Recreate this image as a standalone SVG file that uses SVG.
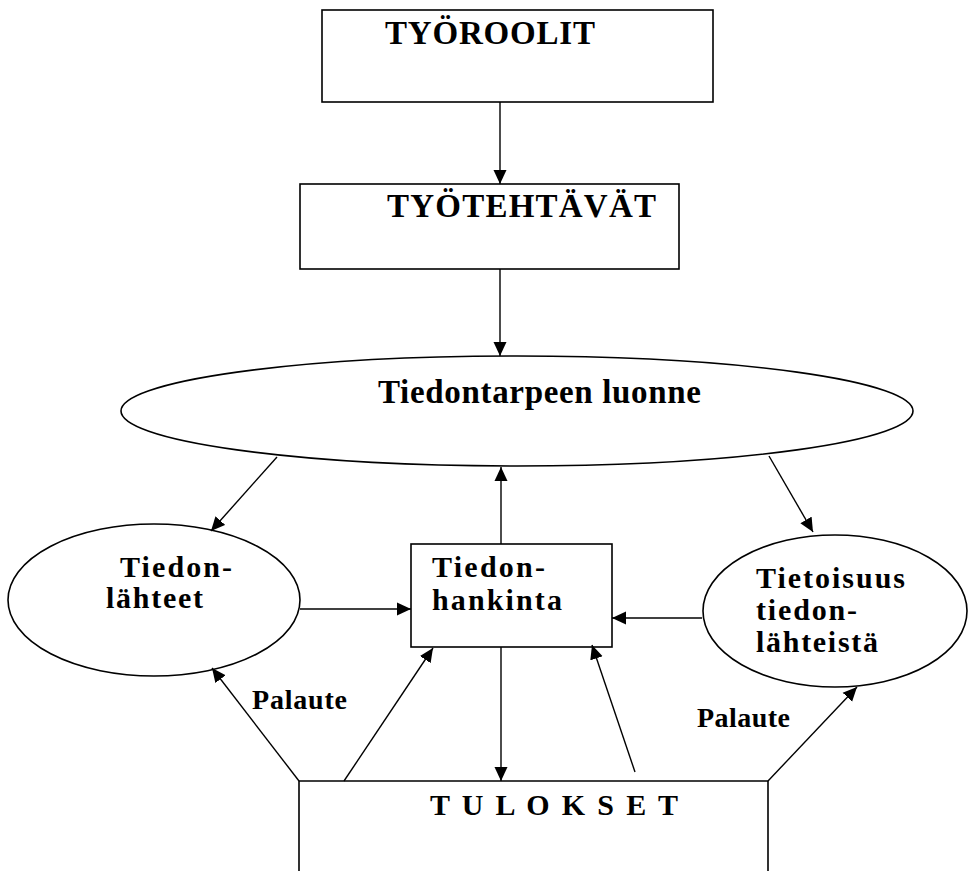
<svg xmlns="http://www.w3.org/2000/svg" width="968" height="871" viewBox="0 0 968 871">
<style>
.box{fill:#fff;stroke:#000;stroke-width:1.6}
.t{font-family:"Liberation Serif","Times New Roman",serif;font-weight:bold;fill:#000}
.c{fill:none;stroke:#000;stroke-width:1.4}
</style>
<defs>
<marker id="ah" markerUnits="userSpaceOnUse" markerWidth="15" markerHeight="14" refX="14" refY="7" orient="auto">
<path d="M0,0.5 L14,7 L0,13.5 z" fill="#000"/>
</marker>
</defs>
<rect width="968" height="871" fill="#fff"/>
<g id="tyoroolit">
<rect class="box" x="322" y="10" width="391" height="92"/>
<text class="t" x="385" y="44" font-size="33" textLength="210">TYÖROOLIT</text>
</g>
<g id="tyotehtavat">
<rect class="box" x="300" y="184" width="379" height="85"/>
<text class="t" x="387" y="217" font-size="33" textLength="269">TYÖTEHTÄVÄT</text>
</g>
<g id="tiedontarve">
<ellipse class="box" cx="517" cy="411" rx="396" ry="55"/>
<text class="t" x="378" y="403" font-size="33" textLength="323">Tiedontarpeen luonne</text>
</g>
<g id="tiedonlahteet">
<ellipse class="box" cx="154" cy="600" rx="146" ry="76"/>
<text class="t" x="120" y="577" font-size="30" textLength="112">Tiedon-</text>
<text class="t" x="106" y="608" font-size="30" textLength="97">lähteet</text>
</g>
<g id="tiedonhankinta">
<rect class="box" x="411" y="544" width="201" height="103"/>
<text class="t" x="432" y="577" font-size="30" textLength="113">Tiedon-</text>
<text class="t" x="432" y="610" font-size="30" textLength="130">hankinta</text>
</g>
<g id="tietoisuus">
<ellipse class="box" cx="835" cy="611" rx="132" ry="76"/>
<text class="t" x="756" y="588" font-size="30" textLength="149">Tietoisuus</text>
<text class="t" x="756" y="620" font-size="30" textLength="101">tiedon-</text>
<text class="t" x="756" y="652" font-size="30" textLength="122">lähteistä</text>
</g>
<g id="tulokset">
<path class="box" d="M299,872 V781 H768 V872" fill="#fff"/>
<text class="t" x="430" y="815" font-size="30" textLength="248">T U L O K S E T</text>
</g>
<g id="connectors">
<line class="c" x1="500" y1="102" x2="500" y2="184" marker-end="url(#ah)"/>
<line class="c" x1="500" y1="269" x2="500" y2="356" marker-end="url(#ah)"/>
<line class="c" x1="277" y1="457" x2="211" y2="531" marker-end="url(#ah)"/>
<line class="c" x1="769" y1="456" x2="813" y2="532" marker-end="url(#ah)"/>
<line class="c" x1="501" y1="544" x2="501" y2="467" marker-end="url(#ah)"/>
<line class="c" x1="300" y1="609" x2="411" y2="609" marker-end="url(#ah)"/>
<line class="c" x1="702" y1="618" x2="612" y2="618" marker-end="url(#ah)"/>
<line class="c" x1="501" y1="647" x2="501" y2="781" marker-end="url(#ah)"/>
<line class="c" x1="299" y1="781" x2="212" y2="668" marker-end="url(#ah)"/>
<line class="c" x1="344" y1="781" x2="433" y2="648" marker-end="url(#ah)"/>
<line class="c" x1="635" y1="772" x2="592" y2="645" marker-end="url(#ah)"/>
<line class="c" x1="768" y1="781" x2="857" y2="687" marker-end="url(#ah)"/>
</g>
<g id="labels">
<text class="t" x="252" y="709" font-size="28" textLength="95">Palaute</text>
<text class="t" x="697" y="727" font-size="28" textLength="93">Palaute</text>
</g>
</svg>
